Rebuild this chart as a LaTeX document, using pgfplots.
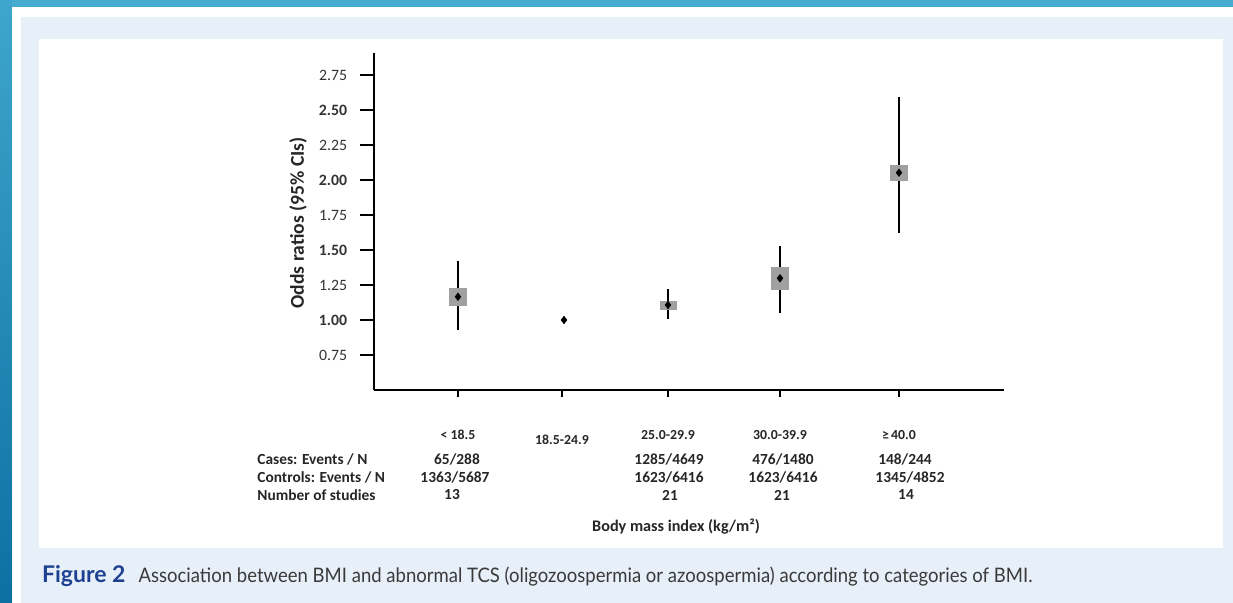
\documentclass[border=0pt]{standalone}
\usepackage{pgfplots}
\pgfplotsset{compat=1.18}
\usepackage{fontspec}
\setmainfont{Carlito}
\newfontfamily\capfont{Lato}
\definecolor{frameblue}{RGB}{70,173,209}
\definecolor{frametop}{RGB}{62,165,204}
\definecolor{framebot}{RGB}{14,112,162}
\definecolor{panel}{RGB}{231,239,249}
\definecolor{capblue}{RGB}{30,66,145}
\definecolor{captext}{RGB}{58,58,58}
\definecolor{sqgray}{RGB}{160,160,160}
\begin{document}
\begin{tikzpicture}
\begin{scope}[x=0.5pt,y=-0.5pt]
\path[use as bounding box] (0,0) rectangle (1233,603);
\fill[frameblue] (0,0) rectangle (1233,7);
\shade[top color=frametop, bottom color=framebot] (0,0) rectangle (12,603);
\fill[white] (12,7) rectangle (1233,603);
\fill[panel] (21,17) rectangle (1233,603);
\fill[white] (39,39) rectangle (1223,548);
\end{scope}
\begin{axis}[
  at={(187pt,-195pt)}, anchor=south west,
  scale only axis, width=315pt, height=168.5pt,
  xmin=374, xmax=1004, ymin=0.5, ymax=2.907,
  axis lines*=left,
  axis line style={line width=1pt, black},
  tick style={line width=1pt, black},
  major tick length=7pt,
  tick align=outside,
  xtick style={/pgfplots/major tick length=3.5pt},
  xtick={458,562,668,780,899},
  xticklabels={{< 18.5},{\raisebox{-2.5pt}[\height][\depth]{18.5-24.9}},{25.0-29.9},{30.0-39.9},{≥\,40.0}},
  xticklabel style={font=\fontsize{6.9}{8}\selectfont\bfseries, text=black!85, yshift=-9.5pt},
  ytick={0.75,1,1.25,1.5,1.75,2,2.25,2.5,2.75},
  yticklabels={0.75,\textbf{1.00},1.25,\textbf{1.50},1.75,\textbf{2.00},2.25,\textbf{2.50},2.75},
  yticklabel style={font=\fontsize{7.9}{9}\selectfont, text=black!80, xshift=-2.9pt},
  ylabel={Odds ratios (95\% CIs)},
  ylabel style={font=\fontsize{9.8}{11}\selectfont\bfseries, text=black!85, at={(axis description cs:-0.1206,0.4955)}, anchor=center},
  clip=false,
]
\addplot[sqgray, only marks, mark=square*, mark size=4.25pt, mark options={fill=sqgray, draw=sqgray, line width=0pt}] coordinates {(458,1.166)};
\addplot[sqgray, only marks, mark=square*, mark size=4pt, mark options={fill=sqgray, draw=sqgray, line width=0pt, yscale=0.5}] coordinates {(668,1.107)};
\addplot[sqgray, only marks, mark=square*, mark size=4.25pt, mark options={fill=sqgray, draw=sqgray, line width=0pt, yscale=1.3}] coordinates {(780,1.298)};
\addplot[sqgray, only marks, mark=square*, mark size=4.25pt, mark options={fill=sqgray, draw=sqgray, line width=0pt, yscale=0.88}] coordinates {(899,2.052)};
\addplot[only marks, mark=diamond*, mark size=1.8pt, black,
  error bars/.cd, y dir=both, y explicit, error mark=none,
  error bar style={line width=1pt, black}]
coordinates {
 (458,1.166) += (0,0.254) -= (0,0.236)
 (564,1.00) += (0,0) -= (0,0)
 (668,1.107) += (0,0.113) -= (0,0.097)
 (780,1.298) += (0,0.232) -= (0,0.248)
 (899,2.052) += (0,0.543) -= (0,0.432)
};
\end{axis}
\begin{scope}[x=0.5pt,y=-0.5pt, every node/.style={inner sep=0pt, font=\fontsize{7.7}{9}\selectfont\bfseries, text=black!85}]
\node[anchor=west] at (257,459) {Cases: Events / N};
\node[anchor=west] at (257,477) {Controls: Events / N};
\node[anchor=west] at (257,495) {Number of studies};
\node at (457,459) {65/288};
\node at (455,477) {1363/5687};
\node at (452,495) {13};
\node at (669,459) {1285/4649};
\node at (669,477) {1623/6416};
\node at (670,495) {21};
\node at (783,459) {476/1480};
\node at (783,477) {1623/6416};
\node at (782,495) {21};
\node at (905,459) {148/244};
\node at (910,477) {1345/4852};
\node at (906,495) {14};
\node[font=\fontsize{8.1}{10}\selectfont\bfseries] at (676,527) {Body mass index (kg/m²)};
\node[anchor=base west, font=\capfont\fontsize{10}{12}\selectfont] at (41.7,583)
  {\textcolor{capblue}{\fontsize{11.5}{12}\selectfont\bfseries Figure 2}\hspace{6.5pt}\scalebox{0.926}[1]{\textcolor{captext}{Association between BMI and abnormal TCS (oligozoospermia or azoospermia) according to categories of BMI.}}};
\end{scope}
\end{tikzpicture}
\end{document}
